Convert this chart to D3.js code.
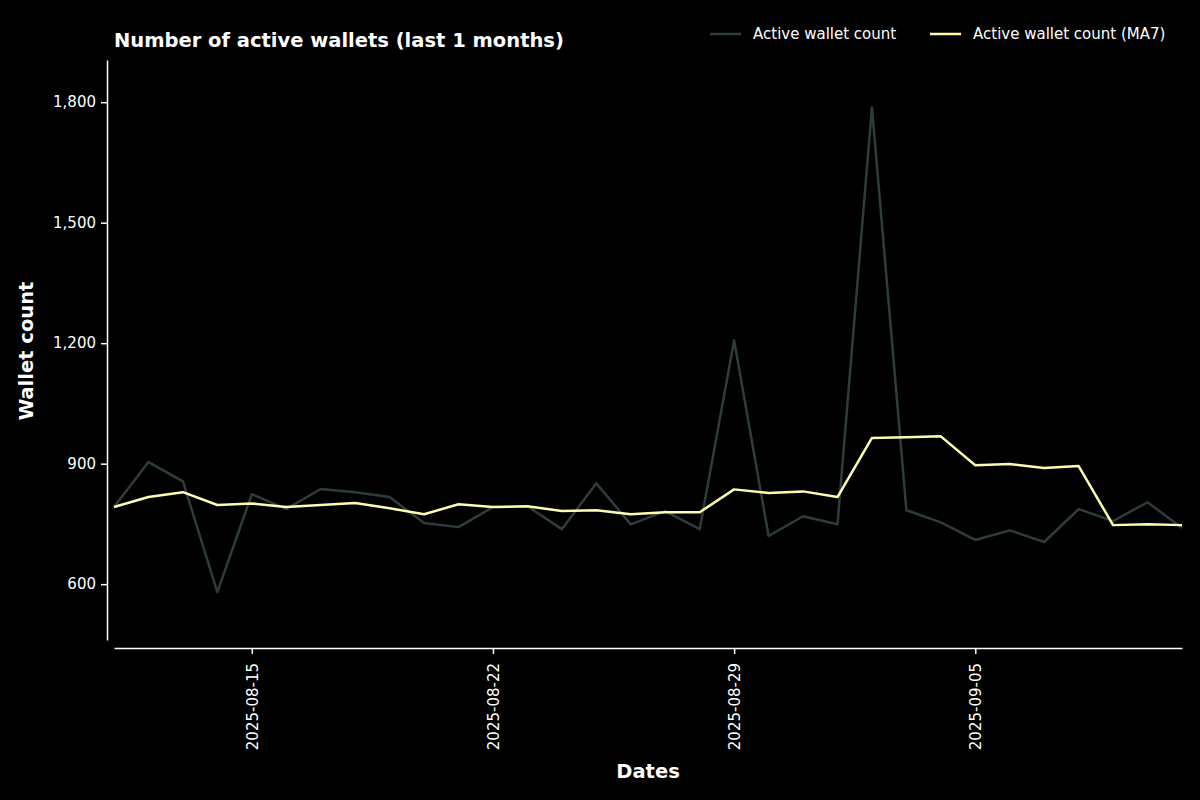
<!DOCTYPE html>
<html>
<head>
<meta charset="utf-8">
<script src="https://cdn.jsdelivr.net/npm/d3@7"></script>
<style>
  body { margin: 0; background: #000; }
  text { font-family: "DejaVu Sans", sans-serif; fill: #fff; }
</style>
</head>
<body>
<script>
// Data (daily, 2025-08-11 .. 2025-09-11)
const startDate = "2025-08-11";
const activeWallets = [792, 904, 856, 580, 824, 787, 837, 829, 817, 752, 742, 792,
  794, 737, 851, 749, 782, 737, 1207, 720, 769, 749, 1787, 784, 754, 710, 734, 705,
  787, 757, 804, 740];
const activeWalletsMA7 = [792, 817, 829, 797, 801, 792, 797, 802, 789, 774, 799, 792,
  794, 782, 784, 774, 779, 779, 836, 827, 831, 817, 964, 966, 968, 896, 899, 889,
  894, 747, 749, 747];
const yTicks = [600, 900, 1200, 1500, 1800];
const xTicks = ["2025-08-15", "2025-08-22", "2025-08-29", "2025-09-05"];
const seriesNames = ["Active wallet count", "Active wallet count (MA7)"];
const seriesColors = ["#2e3d39", "#fdfdad"];

const width = 1200, height = 800;
const parse = d3.utcParse("%Y-%m-%d");
const t0 = parse(startDate);
const dates = activeWallets.map((_, i) => d3.utcDay.offset(t0, i));

const x = d3.scaleUtc()
  .domain([dates[0], dates[dates.length - 1]])
  .range([114, 1182]);
const y = d3.scaleLinear()
  .domain([461, 1905])
  .range([640, 60]);

const svg = d3.select("body").append("svg")
  .attr("width", width)
  .attr("height", height);

svg.append("rect").attr("width", width).attr("height", height).attr("fill", "#000");

// x axis
const xAxis = svg.append("g")
  .attr("transform", "translate(0,648)")
  .call(d3.axisBottom(x)
    .tickValues(xTicks.map(parse))
    .tickFormat(d3.utcFormat("%Y-%m-%d"))
    .tickSize(6)
    .tickSizeOuter(0));
xAxis.select(".domain").attr("stroke", "#fff").attr("stroke-width", 1.5);
xAxis.selectAll(".tick line").attr("stroke", "#fff").attr("stroke-width", 1.5);
xAxis.selectAll(".tick text")
  .attr("font-size", 15)
  .attr("fill", "#fff")
  .attr("transform", "rotate(-90)")
  .attr("text-anchor", "end")
  .attr("x", -15)
  .attr("y", 0)
  .attr("dy", "0.35em");

// y axis
const yAxis = svg.append("g")
  .attr("transform", "translate(107,0)")
  .call(d3.axisLeft(y)
    .tickValues(yTicks)
    .tickFormat(d3.format(","))
    .tickSize(6)
    .tickSizeOuter(0));
yAxis.select(".domain").attr("stroke", "#fff").attr("stroke-width", 1.5);
yAxis.selectAll(".tick line").attr("stroke", "#fff").attr("stroke-width", 1.5);
yAxis.selectAll(".tick text").attr("font-size", 15).attr("fill", "#fff").attr("x", -11);

// lines
const line = d3.line()
  .x((d, i) => x(dates[i]))
  .y(d => y(d));

[activeWallets, activeWalletsMA7].forEach((series, k) => {
  svg.append("path")
    .datum(series)
    .attr("fill", "none")
    .attr("stroke", seriesColors[k])
    .attr("stroke-width", 2.5)
    .attr("stroke-linejoin", "round")
    .attr("d", line);
});

// titles
svg.append("text")
  .attr("x", 114).attr("y", 47)
  .attr("font-size", 19.5).attr("font-weight", "bold")
  .text("Number of active wallets (last 1 months)");

svg.append("text")
  .attr("x", 648).attr("y", 778)
  .attr("text-anchor", "middle")
  .attr("font-size", 19.5).attr("font-weight", "bold")
  .text("Dates");

svg.append("text")
  .attr("transform", "translate(33,351) rotate(-90)")
  .attr("text-anchor", "middle")
  .attr("font-size", 19.5).attr("font-weight", "bold")
  .text("Wallet count");

// legend
const legendX = [710, 930];
seriesNames.forEach((name, k) => {
  const g = svg.append("g").attr("transform", `translate(${legendX[k]},34)`);
  g.append("line")
    .attr("x1", 0).attr("x2", 31)
    .attr("stroke", seriesColors[k]).attr("stroke-width", 2.5);
  g.append("text")
    .attr("x", 43).attr("dy", "0.35em")
    .attr("font-size", 15)
    .text(name);
});
</script>
</body>
</html>
